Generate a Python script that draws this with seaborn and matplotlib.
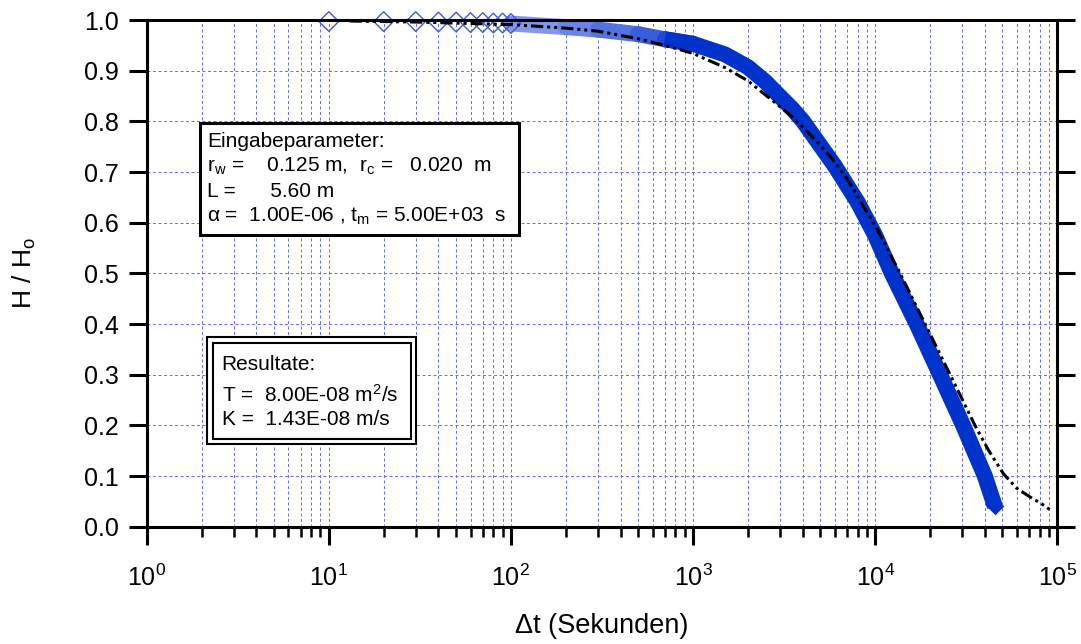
import matplotlib
matplotlib.use("Agg")
import matplotlib.pyplot as plt
import numpy as np
import pandas as pd
import seaborn as sns
from matplotlib.patches import Rectangle
from matplotlib.collections import LineCollection
from matplotlib.ticker import LogLocator, NullFormatter, FixedLocator

# Measured recovery H/H0 over time since start of test (s)
t_meas = [10, 20, 30, 40, 50, 60, 70, 80, 90, 100,
          200, 300, 500, 700, 1000, 1500, 2000, 2500, 3000, 3500, 4000, 5000, 6000,
          7000, 8000, 10000, 12340, 16900, 22700, 30400, 40000, 45400]
h_meas = [0.997, 0.997, 0.997, 0.996, 0.996, 0.995, 0.995, 0.994, 0.994, 0.993,
          0.986, 0.981, 0.972, 0.962, 0.953, 0.932, 0.907, 0.878, 0.849, 0.825, 0.801,
          0.752, 0.712, 0.674, 0.641, 0.575, 0.500, 0.400, 0.300, 0.200, 0.100, 0.040]

# Type-curve fit
t_model = [13, 30, 100, 200, 300, 500, 700, 1000, 1500, 2000, 2500, 3000, 3500, 4000,
           5000, 6000, 7000, 8000, 10300, 13700, 18800, 25800, 35300, 41900, 50500,
           59800, 70600, 82200, 90800]
h_model = [0.998, 0.996, 0.991, 0.984, 0.978, 0.963, 0.950, 0.934, 0.906, 0.880,
           0.852, 0.829, 0.809, 0.789, 0.753, 0.720, 0.687, 0.652, 0.586, 0.500,
           0.400, 0.300, 0.200, 0.151, 0.105, 0.076, 0.059, 0.045, 0.034]

x_ticks = [1e0, 1e1, 1e2, 1e3, 1e4, 1e5]
x_tick_labels = [r"$\mathregular{10^{0}}$", r"$\mathregular{10^{1}}$", r"$\mathregular{10^{2}}$",
                 r"$\mathregular{10^{3}}$", r"$\mathregular{10^{4}}$", r"$\mathregular{10^{5}}$"]
y_ticks = [0.0, 0.1, 0.2, 0.3, 0.4, 0.5, 0.6, 0.7, 0.8, 0.9, 1.0]
y_tick_labels = ["0.0", "0.1", "0.2", "0.3", "0.4", "0.5", "0.6", "0.7", "0.8", "0.9", "1.0"]

input_lines = [
    "Eingabeparameter:",
    r"r$_\mathregular{w}$ =    0.125 m,  r$_\mathregular{c}$ =   0.020  m",
    "L =      5.60 m",
    r"α =  1.00E-06 , t$_\mathregular{m}$ = 5.00E+03  s",
]
result_lines = [
    "Resultate:",
    r"T =  8.00E-08 m$^\mathregular{2}$/s",
    "K =  1.43E-08 m/s",
]

sns.set_theme(style="white")
plt.rcParams["font.family"] = ["Liberation Sans", "DejaVu Sans"]
plt.rcParams["mathtext.fontset"] = "custom"
plt.rcParams["mathtext.rm"] = "Liberation Sans"
plt.rcParams["mathtext.it"] = "Liberation Sans:italic"
plt.rcParams["mathtext.bf"] = "Liberation Sans:bold"

W, H = 1081, 644
fig = plt.figure(figsize=(W / 100, H / 100), dpi=100)
fig.patch.set_facecolor("white")


def fx(px):
    return px / W


def fy(py):
    return 1 - py / H


ax_l, ax_r, ax_t, ax_b = 146.7, 1057.3, 20.0, 526.7
ax = fig.add_axes([fx(ax_l), fy(ax_b), fx(ax_r - ax_l), (ax_b - ax_t) / H])
ax.set_facecolor("white")
ax.set_xscale("log")
ax.set_xlim(1, 1e5)
ax.set_ylim(0, 1)

band_dark = "#0033cc"
band_lw = 11.5
grid_col = "#6f6fff"

# measured data: early readings as open diamonds
early = pd.DataFrame({"t": t_meas[:10], "h": h_meas[:10]})
sns.scatterplot(data=early, x="t", y="h", marker="D", s=100, facecolors="none",
                edgecolor="#3a5bdc", linewidth=1.0, ax=ax, clip_on=False, zorder=2.2)

# dense readings: overlapping diamonds blend into a band, lighter while sparse
pts = np.column_stack([t_meas, h_meas])
seg_idx = range(9, 14)
segs = [pts[i:i + 2] for i in seg_idx]
seg_cols = ["#8396eb", "#6c84e7", "#5272e1", "#3a5edb", "#1f49d4"]
lc = LineCollection(segs, colors=seg_cols, linewidths=band_lw, capstyle="round", zorder=2.1)
lc.set_clip_on(False)
ax.add_collection(lc)

dense = pd.DataFrame({"t": t_meas[13:], "h": h_meas[13:]})
sns.lineplot(data=dense, x="t", y="h", color=band_dark, linewidth=band_lw, estimator=None,
             sort=False, ax=ax, solid_capstyle="butt", solid_joinstyle="round", zorder=2.3)
sns.scatterplot(x=[t_meas[-1]], y=[h_meas[-1]], marker="D", s=80, color=band_dark,
                linewidth=0, ax=ax, zorder=2.35)

# fitted type curve
model = pd.DataFrame({"t": t_model, "h": h_model})
sns.lineplot(data=model, x="t", y="h", color="black", linewidth=2.2, estimator=None,
             ax=ax, linestyle=(0, (4, 1.3, 1, 1.3, 1, 1.3)), zorder=3,
             dash_capstyle="butt")

# axes, ticks
ax.xaxis.set_major_locator(FixedLocator(x_ticks))
ax.xaxis.set_minor_locator(LogLocator(base=10, subs=np.arange(2, 10)))
ax.xaxis.set_minor_formatter(NullFormatter())
ax.set_xticks(x_ticks)
ax.set_xticklabels(x_tick_labels)
ax.set_yticks(y_ticks)
ax.set_yticklabels(y_tick_labels)

# dashed blue grid: every decade subdivision on x, every tenth on y
ax.grid(False)
grid_dash = (0, (3, 2.5))
for xv in list(ax.xaxis.get_majorticklocs()) + list(ax.xaxis.get_minorticklocs()):
    if 1 < xv < 1e5:
        ax.axvline(xv, color=grid_col, linestyle=grid_dash, linewidth=0.72, zorder=0.5,
                   snap=True)
for yv in y_ticks[1:-1]:
    ax.axhline(yv, color=grid_col, linestyle=grid_dash, linewidth=0.72, zorder=0.5,
               snap=True)

for sp in ax.spines.values():
    sp.set_visible(True)
    sp.set_color("black")
    sp.set_linewidth(2.2)

ax.tick_params(axis="x", which="major", direction="out", length=13, width=2.2,
               labelsize=18, pad=14, top=False, bottom=True, colors="black")
ax.tick_params(axis="x", which="minor", direction="out", length=7, width=1.8,
               top=False, bottom=True, colors="black")
ax.tick_params(axis="y", which="major", direction="out", length=13, width=2.2,
               labelsize=18, pad=7, left=True, right=True, labelright=False,
               colors="black")
ax.tick_params(axis="y", which="minor", left=False, right=False)

ax.set_xlabel("Δt (Sekunden)", fontsize=19.5, color="black", labelpad=16)
ax.set_ylabel(r"H / H$_\mathregular{o}$", fontsize=19, color="black", labelpad=33)

# parameter box
fig.add_artist(Rectangle((fx(199.5), fy(235.5)), fx(518.5 - 199.5), (235.5 - 123) / H,
                         transform=fig.transFigure, facecolor="white", edgecolor="black",
                         linewidth=2.2, zorder=5))
for i, line in enumerate(input_lines):
    fig.text(fx(207), fy(147.3 + 24.8 * i), line, fontsize=15, color="black",
             va="baseline", ha="left", zorder=6)

# results box with double frame
fig.add_artist(Rectangle((fx(207), fy(444)), fx(416 - 207), (444 - 337) / H,
                         transform=fig.transFigure, facecolor="white", edgecolor="black",
                         linewidth=1.5, zorder=5))
fig.add_artist(Rectangle((fx(212.7), fy(439)), fx(410.7 - 212.7), (439 - 342.7) / H,
                         transform=fig.transFigure, facecolor="none", edgecolor="black",
                         linewidth=1.5, zorder=5.5))
res_y = [370, 401.7, 425]
for line, yy in zip(result_lines, res_y):
    fig.text(fx(221.7), fy(yy), line, fontsize=15, color="black",
             va="baseline", ha="left", zorder=6)

fig.savefig("out.png", dpi=100, facecolor="white")
